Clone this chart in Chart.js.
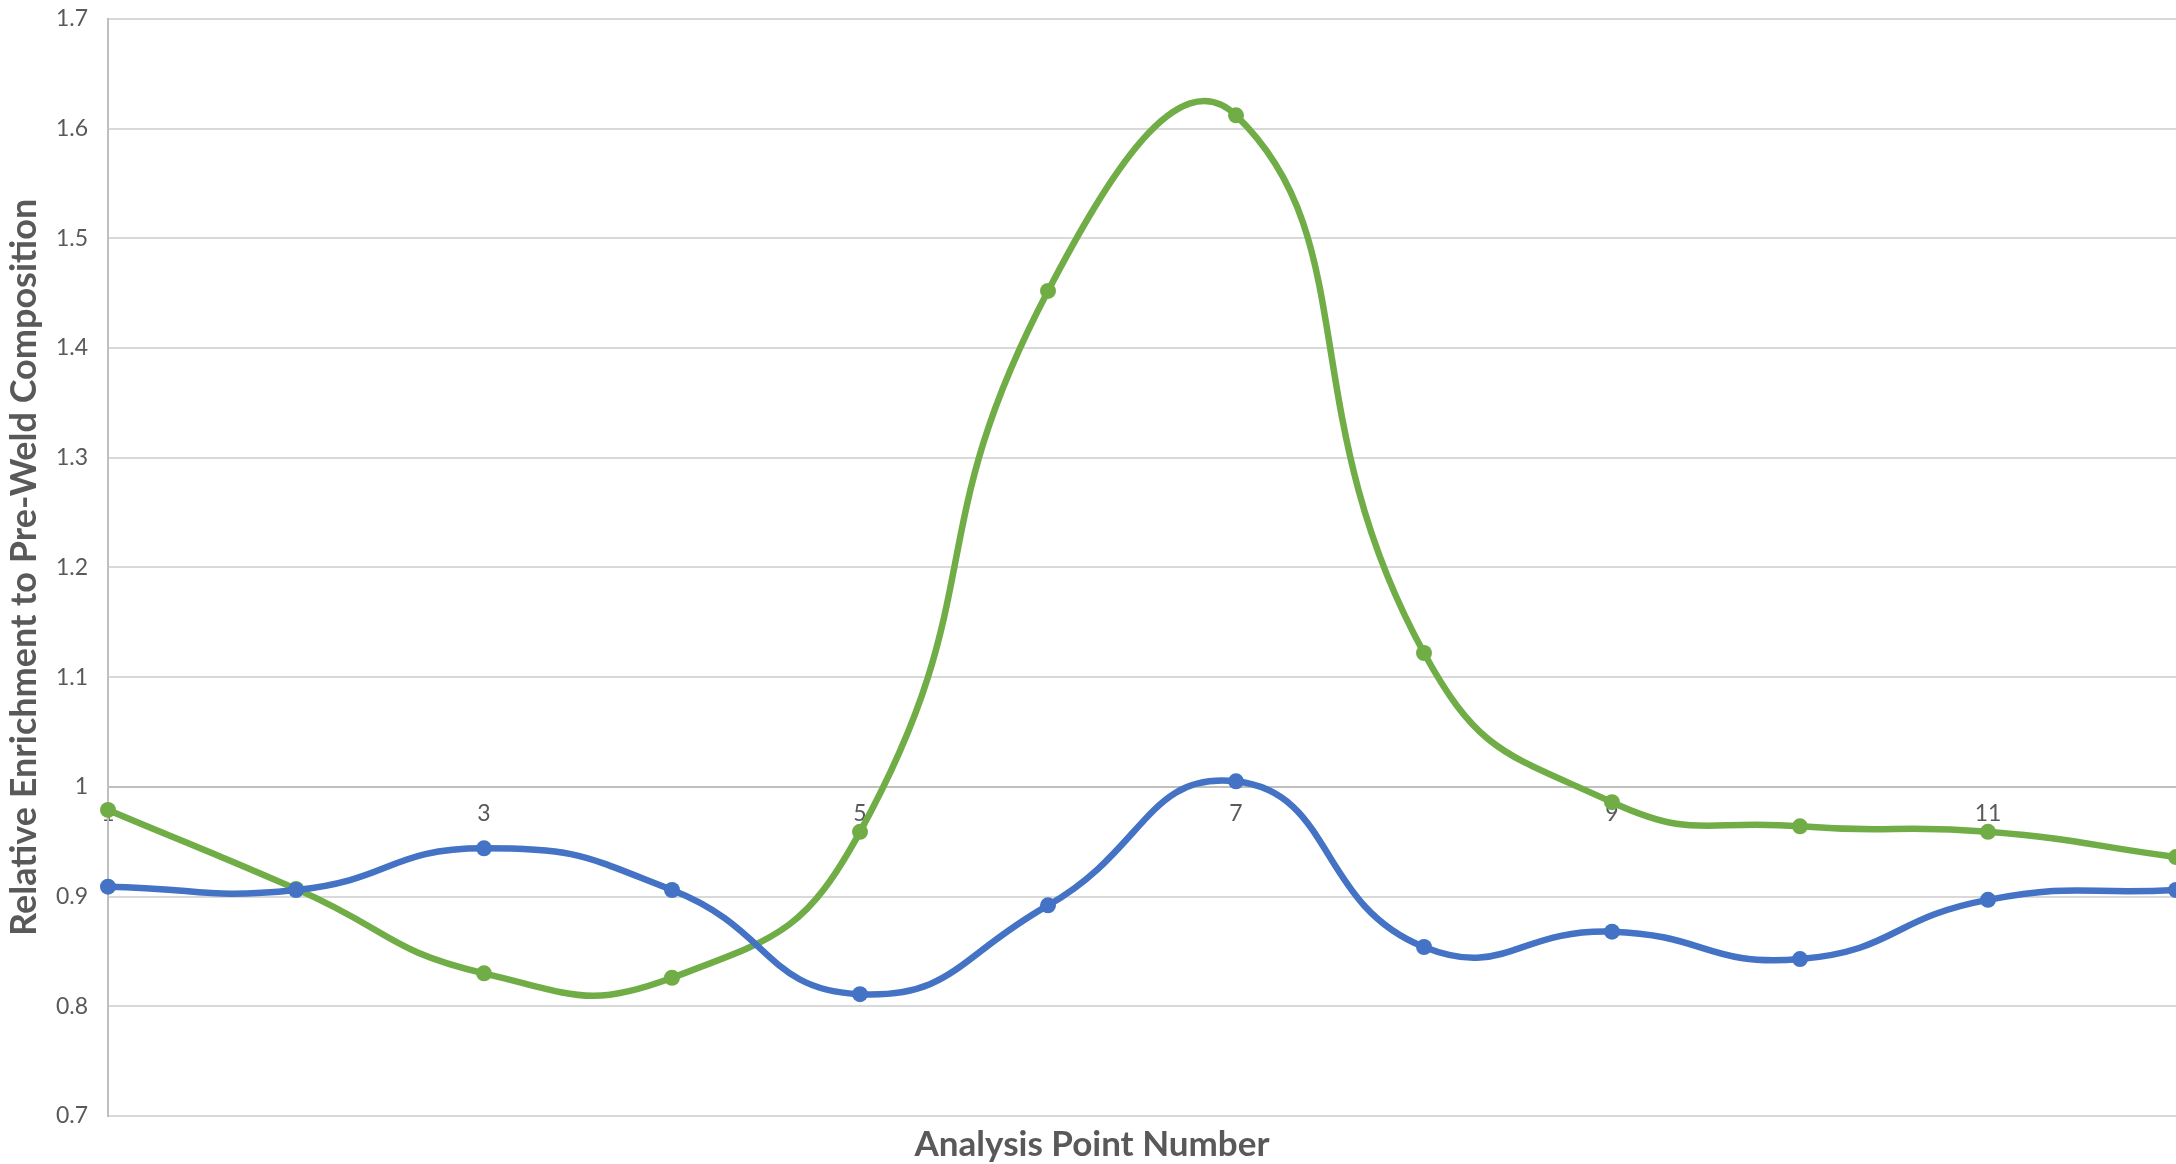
<!DOCTYPE html>
<html>
<head>
<meta charset="utf-8">
<script src="https://cdn.jsdelivr.net/npm/chart.js@4"></script>
<style>
    html, body { margin: 0; padding: 0; background: #ffffff; overflow: hidden; }
    #frame { width: 2176px; height: 1164px; position: relative; overflow: hidden; }
    /* 图表区域延伸到右边缘和顶部 */
    #wrap { position: absolute; left: 0; top: -15px; width: 2184px; height: 1181px; }
</style>
</head>
<body>
<div id="frame"><div id="wrap"><canvas id="chart"></canvas></div></div>
<script>
// 数据
const pointNumbers = [1, 2, 3, 4, 5, 6, 7, 8, 9, 10, 11, 12];
const blueValues = [0.909, 0.906, 0.944, 0.906, 0.811, 0.892, 1.005, 0.854, 0.868, 0.843, 0.897, 0.906];
const greenValues = [0.979, 0.907, 0.830, 0.826, 0.959, 1.452, 1.612, 1.122, 0.986, 0.964, 0.959, 0.936];
const xTickValues = [1, 3, 5, 7, 9, 11];
const yMin = 0.7;
const yMax = 1.7;
const yStep = 0.1;

const textColor = '#595959';
const gridColor = '#d9d9d9';
const axisColor = '#bfbfbf';
const blue = '#4472c4';
const green = '#70ad47';

const ctx = document.getElementById('chart').getContext('2d');

function toPoints(values) {
    return pointNumbers.map((x, i) => ({ x: x, y: values[i] }));
}

function lineDataset(values, color) {
    return {
        data: toPoints(values),
        borderColor: color,
        backgroundColor: color,
        borderWidth: 6.5,
        pointRadius: 8,
        pointBorderWidth: 0,
        pointBackgroundColor: color,
        tension: 0.5,
        fill: false,
        clip: false,
    };
}

new Chart(ctx, {
    type: 'line',
    data: {
        datasets: [
            lineDataset(blueValues, blue),   // 蓝线在上层
            lineDataset(greenValues, green),
        ],
    },
    options: {
        responsive: true,
        maintainAspectRatio: false,
        devicePixelRatio: 1,
        animation: false,
        layout: { padding: { top: 4, left: 0, right: 0, bottom: 0 } },
        plugins: {
            legend: { display: false },
            tooltip: { enabled: false },
            title: {
                display: true,
                position: 'bottom',
                text: 'Analysis Point Number',
                color: textColor,
                font: { family: 'Lato', size: 35, weight: 'bold' },
                padding: { top: 8, bottom: 0 },
            },
        },
        scales: {
            x: {
                type: 'linear',
                min: 1,
                max: 12,
                position: { y: 1 }, // 横轴穿过 y = 1
                grid: { display: false, drawTicks: false },
                border: { display: true, color: axisColor, width: 2 },
                afterBuildTicks: (scale) => {
                    scale.ticks = xTickValues.map(v => ({ value: v }));
                },
                ticks: {
                    color: textColor,
                    font: { family: 'Lato', size: 23 },
                    padding: 13,
                    maxRotation: 0,
                    autoSkip: false,
                    callback: (v) => String(v),
                },
            },
            y: {
                type: 'linear',
                min: yMin,
                max: yMax,
                afterFit: (scale) => { scale.width = 108; },
                grid: { color: gridColor, lineWidth: 2, drawTicks: false },
                border: { display: true, color: axisColor, width: 2 },
                ticks: {
                    stepSize: yStep,
                    color: textColor,
                    font: { family: 'Lato', size: 23 },
                    padding: 20,
                    callback: (v) => String(+v.toFixed(1)),
                },
                title: {
                    display: true,
                    text: 'Relative Enrichment to Pre-Weld Composition',
                    color: textColor,
                    font: { family: 'Lato', size: 36, weight: 'bold' },
                    padding: { top: 3, bottom: 0 },
                },
            },
        },
    },
});
</script>
</body>
</html>
